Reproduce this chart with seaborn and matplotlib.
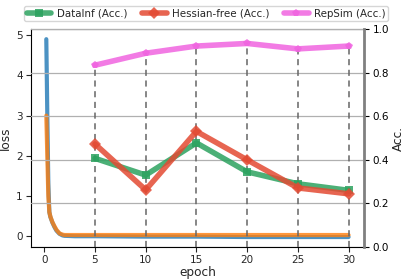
import matplotlib
matplotlib.use("Agg")
import matplotlib.pyplot as plt
import seaborn as sns
import pandas as pd

# loss curves
loss_epochs = [0.2, 0.3, 0.4, 0.5, 0.6, 0.8, 1.0, 1.2, 1.5, 1.8, 2.0, 3, 5, 10, 15, 20, 25, 30]
loss_blue = [4.9, 3.0, 1.3, 0.6, 0.48, 0.34, 0.23, 0.14, 0.06, 0.02, 0.01, 0.0, 0.0, -0.01, -0.01, -0.02, -0.02, -0.02]
loss_orange = [3.0, 2.0, 1.0, 0.6, 0.49, 0.35, 0.25, 0.16, 0.07, 0.04, 0.03, 0.03, 0.03, 0.03, 0.03, 0.03, 0.03, 0.03]

# accuracy
acc_epochs = [5, 10, 15, 20, 25, 30]
datainf_acc = [0.407, 0.33, 0.478, 0.345, 0.29, 0.26]
hessian_acc = [0.473, 0.262, 0.531, 0.40, 0.271, 0.244]
repsim_acc = [0.835, 0.89, 0.923, 0.935, 0.91, 0.923]

sns.set_style("white")
plt.rcParams['font.family'] = ['DejaVu Sans']

fig, ax = plt.subplots(figsize=(4.05, 2.79), dpi=100)
ax2 = ax.twinx()

df_loss = pd.DataFrame({"epoch": loss_epochs, "blue": loss_blue, "orange": loss_orange})
sns.lineplot(data=df_loss, x="epoch", y="blue", ax=ax, color="#1f77b4", lw=3, alpha=0.8)
sns.lineplot(data=df_loss, x="epoch", y="orange", ax=ax, color="#ff7f0e", lw=3, alpha=0.8)

ax2.vlines(acc_epochs, 0, repsim_acc, colors="#666666", linestyles=(0, (4, 3)), lw=1.1, zorder=1)

df_acc = pd.DataFrame({"epoch": acc_epochs, "DataInf": datainf_acc,
                       "Hessian": hessian_acc, "RepSim": repsim_acc})
sns.lineplot(data=df_acc, x="epoch", y="DataInf", ax=ax2, color="#2ca25f", lw=4, alpha=0.85,
             marker="s", markersize=6, markeredgewidth=0, label="DataInf (Acc.)")
sns.lineplot(data=df_acc, x="epoch", y="Hessian", ax=ax2, color="#e34a33", lw=4, alpha=0.85,
             marker="D", markersize=6, markeredgewidth=0, label="Hessian-free (Acc.)")
sns.lineplot(data=df_acc, x="epoch", y="RepSim", ax=ax2, color="#f064e0", lw=4, alpha=0.85,
             marker="p", markersize=6, markeredgewidth=0, label="RepSim (Acc.)")

ax2.set_ylim(0, 1.0)
ax2.set_yticks([0.0, 0.2, 0.4, 0.6, 0.8, 1.0])
ax2.yaxis.grid(True, color="#b0b0b0", lw=0.9)
ax2.set_ylabel("Acc.", fontsize=8.7, labelpad=2)
ax2.tick_params(axis="y", labelsize=7.5, length=3.5, width=0.8, colors="black", pad=3)

ax.set_xticks([0, 5, 10, 15, 20, 25, 30])
ax.set_yticks([0, 1, 2, 3, 4, 5])
ax.set_xlabel("epoch", fontsize=8.7, labelpad=0.5)
ax.set_ylabel("loss", fontsize=8.7, labelpad=3)
ax.tick_params(axis="both", labelsize=7.5, length=3.5, width=0.8, pad=2.5, left=True, bottom=True)

ax2.spines["top"].set_visible(False)
ax.spines["top"].set_color("black")
ax.spines["left"].set_color("black")
ax.spines["bottom"].set_color("black")
ax.spines["right"].set_visible(False)
ax2.spines["left"].set_visible(False)
ax2.spines["bottom"].set_visible(False)
ax2.spines["right"].set_color("#808080")
ax2.spines["right"].set_linewidth(2)

leg = ax2.legend(loc="upper center", bbox_to_anchor=(0.509, 0.997), bbox_transform=fig.transFigure,
                 ncol=3, fontsize=7.4, frameon=True, handlelength=2.4, columnspacing=1.45,
                 borderpad=0.25, handletextpad=0.5)
leg.get_frame().set_edgecolor("#cccccc")

fig.subplots_adjust(left=0.077, right=0.898, top=0.895, bottom=0.115)
fig.savefig("out.png", dpi=100)
